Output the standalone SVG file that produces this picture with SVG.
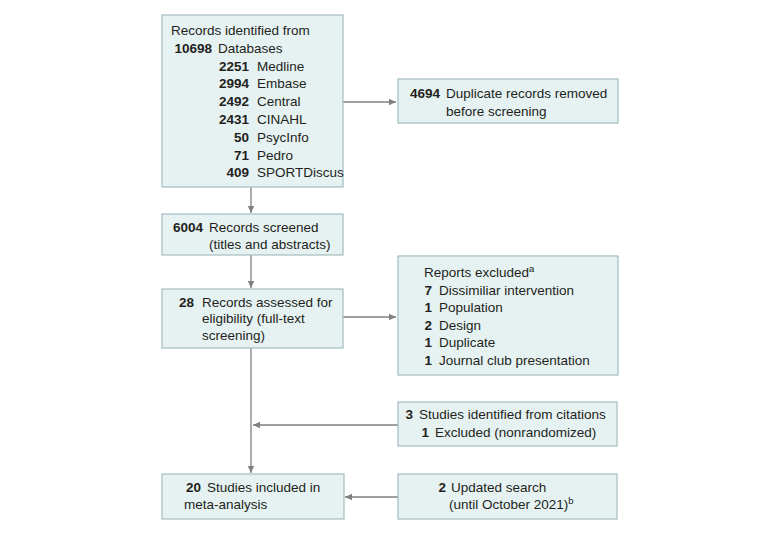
<svg xmlns="http://www.w3.org/2000/svg" width="780" height="539" viewBox="0 0 780 539">
<defs>
<style>
.box{fill:#e6f2f2;stroke:#a3bcbf;stroke-width:1.2}
text{font-family:"Liberation Sans",Arial,sans-serif;font-size:13.5px;fill:#231f20}
.b{font-weight:bold}
.e{text-anchor:end}
.sup{font-size:9.5px}
.c{stroke:#808080;stroke-width:1.3;fill:none}
</style>
<marker id="ah" markerWidth="8" markerHeight="8" refX="7" refY="4" orient="auto" markerUnits="userSpaceOnUse">
<path d="M0,0.8 L7,4 L0,7.2 Z" fill="#808080"/>
</marker>
</defs>
<rect width="780" height="539" fill="#ffffff"/>
<g id="connectors">
<line class="c" x1="343" y1="102" x2="396" y2="102" marker-end="url(#ah)"/>
<line class="c" x1="251" y1="187" x2="251" y2="213" marker-end="url(#ah)"/>
<line class="c" x1="251" y1="255" x2="251" y2="288" marker-end="url(#ah)"/>
<line class="c" x1="343" y1="317" x2="396" y2="317" marker-end="url(#ah)"/>
<line class="c" x1="251" y1="348" x2="251" y2="473" marker-end="url(#ah)"/>
<line class="c" x1="398" y1="425" x2="253" y2="425" marker-end="url(#ah)"/>
<line class="c" x1="398" y1="497" x2="345" y2="497" marker-end="url(#ah)"/>
</g>
<g id="identified">
<rect class="box" x="162" y="15" width="181" height="172"/>
<text x="171" y="35">Records identified from</text>
<text class="b e" x="212" y="53">10698</text><text x="218" y="53">Databases</text>
<text class="b e" x="249" y="70.5">2251</text><text x="257" y="70.5">Medline</text>
<text class="b e" x="249" y="88.3">2994</text><text x="257" y="88.3">Embase</text>
<text class="b e" x="249" y="106">2492</text><text x="257" y="106">Central</text>
<text class="b e" x="249" y="124">2431</text><text x="257" y="124">CINAHL</text>
<text class="b e" x="249" y="141.7">50</text><text x="257" y="141.7">PsycInfo</text>
<text class="b e" x="249" y="159.5">71</text><text x="257" y="159.5">Pedro</text>
<text class="b e" x="249" y="177.3">409</text><text x="257" y="177.3">SPORTDiscus</text>
</g>
<g id="duplicates">
<rect class="box" x="398" y="79" width="220" height="44"/>
<text class="b e" x="440" y="98">4694</text><text x="446" y="98">Duplicate records removed</text>
<text x="446" y="115.5">before screening</text>
</g>
<g id="screened">
<rect class="box" x="162" y="214" width="181" height="41"/>
<text class="b e" x="203" y="232">6004</text><text x="209" y="232">Records screened</text>
<text x="209" y="249">(titles and abstracts)</text>
</g>
<g id="assessed">
<rect class="box" x="162" y="289" width="181" height="59"/>
<text class="b e" x="194" y="306.5">28</text><text x="202" y="306.5">Records assessed for</text>
<text x="202" y="323">eligibility (full-text</text>
<text x="202" y="340">screening)</text>
</g>
<g id="excluded">
<rect class="box" x="398" y="256" width="220" height="119"/>
<text x="424" y="277">Reports excluded<tspan class="sup" dy="-5">a</tspan></text>
<text class="b e" x="432" y="294.5">7</text><text x="439" y="294.5">Dissimiliar intervention</text>
<text class="b e" x="432" y="312">1</text><text x="439" y="312">Population</text>
<text class="b e" x="432" y="329.7">2</text><text x="439" y="329.7">Design</text>
<text class="b e" x="432" y="347.3">1</text><text x="439" y="347.3">Duplicate</text>
<text class="b e" x="432" y="365">1</text><text x="439" y="365">Journal club presentation</text>
</g>
<g id="citations">
<rect class="box" x="398" y="402" width="219" height="44"/>
<text class="b e" x="413" y="418.5">3</text><text x="419" y="418.5">Studies identified from citations</text>
<text class="b e" x="429" y="436.5">1</text><text x="435" y="436.5">Excluded (nonrandomized)</text>
</g>
<g id="included">
<rect class="box" x="162" y="474" width="182" height="45"/>
<text class="b e" x="201" y="492">20</text><text x="207" y="492">Studies included in</text>
<text x="184" y="509">meta-analysis</text>
</g>
<g id="updated">
<rect class="box" x="398" y="474" width="219" height="45"/>
<text class="b e" x="446" y="492">2</text><text x="451" y="492">Updated search</text>
<text x="449" y="509">(until October 2021)<tspan class="sup" dy="-5">b</tspan></text>
</g>
</svg>
